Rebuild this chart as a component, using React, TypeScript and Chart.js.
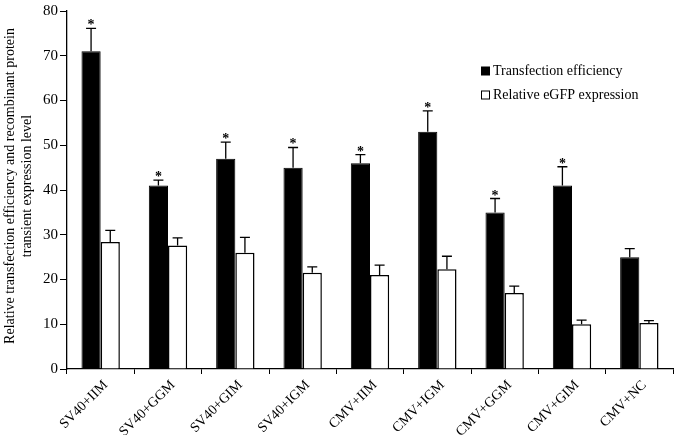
import React, { useEffect, useRef } from "react";
import { Chart, registerables } from "chart.js";

Chart.register(...registerables);

const categories = ["SV40+IIM", "SV40+GGM", "SV40+GIM", "SV40+IGM", "CMV+IIM", "CMV+IGM", "CMV+GGM", "CMV+GIM", "CMV+NC"];
const efficiency = [71, 41, 47, 45, 46, 53, 35, 41, 25];
const efficiencyErr = [5.1, 1.2, 3.7, 4.5, 1.9, 4.7, 3.1, 4.2, 1.9];
const egfp = [28.4, 27.6, 26.0, 21.5, 21.0, 22.3, 17.0, 10.0, 10.3];
const egfpErr = [2.6, 1.7, 3.4, 1.3, 2.2, 2.9, 1.5, 0.9, 0.5];
const significant = [true, true, true, true, true, true, true, true, false];
const yTitle = ["Relative transfection efficiency and recombinant protein", "transient expression level"];
const seriesNames = ["Transfection efficiency", "Relative eGFP expression"];

const FONT = "'Liberation Serif', 'Times New Roman', serif";

export default function App() {
  const ref = useRef<HTMLCanvasElement | null>(null);
  useEffect(() => {
    document.body.style.margin = "0";
    const canvas = ref.current;
    if (!canvas) return;
    const errs = [efficiencyErr, egfpErr];
    const overlay = {
      id: "overlay",
      afterDatasetsDraw(chart: any) {
        const ctx = chart.ctx;
        const y = chart.scales.y;
        ctx.save();
        ctx.strokeStyle = "#000";
        ctx.fillStyle = "#000";
        ctx.lineWidth = 1.3;
        [0, 1].forEach((di) => {
          const meta = chart.getDatasetMeta(di);
          const data = chart.data.datasets[di].data as number[];
          meta.data.forEach((bar: any, i: number) => {
            const x = bar.x;
            const top = y.getPixelForValue(data[i]);
            const et = y.getPixelForValue(data[i] + errs[di][i]);
            ctx.beginPath();
            ctx.moveTo(x, top);
            ctx.lineTo(x, et);
            ctx.moveTo(x - 5, et);
            ctx.lineTo(x + 5, et);
            ctx.stroke();
            if (di === 0 && significant[i]) {
              ctx.font = `bold 14px ${FONT}`;
              ctx.textAlign = "center";
              ctx.textBaseline = "alphabetic";
              ctx.fillText("*", x, et + 1);
            }
          });
        });
        // legend
        ctx.font = `14px ${FONT}`;
        ctx.textAlign = "left";
        ctx.textBaseline = "middle";
        const lx = 481, ly = [71, 95];
        ctx.lineWidth = 1;
        ctx.fillStyle = "#000";
        ctx.fillRect(lx, ly[0] - 4.5, 9, 9);
        ctx.fillStyle = "#fff";
        ctx.fillRect(lx + 0.5, ly[1] - 4, 8, 8);
        ctx.strokeRect(lx + 0.5, ly[1] - 4, 8, 8);
        ctx.fillStyle = "#000";
        ctx.fillText(seriesNames[0], lx + 12, ly[0]);
        ctx.fillText(seriesNames[1], lx + 12, ly[1]);
        // y title
        ctx.save();
        ctx.translate(10, 186);
        ctx.rotate(-Math.PI / 2);
        ctx.textAlign = "center";
        ctx.fillText(yTitle[0], 0, 0);
        ctx.fillText(yTitle[1], 0, 17);
        ctx.restore();
        ctx.restore();
      },
    };
    const chart = new Chart(canvas, {
      type: "bar",
      data: {
        labels: categories,
        datasets: [
          { label: seriesNames[0], data: efficiency, backgroundColor: "#000", borderColor: "#000", borderWidth: 1 },
          { label: seriesNames[1], data: egfp, backgroundColor: "#fff", borderColor: "#000", borderWidth: 1.5 },
        ],
      },
      options: {
        animation: false,
        responsive: false,
        maintainAspectRatio: false,
        layout: { padding: { top: 5, right: 2, left: 0, bottom: 0 } },
        datasets: { bar: { categoryPercentage: 0.57, barPercentage: 1 } },
        plugins: { legend: { display: false }, tooltip: { enabled: false } },
        scales: {
          x: {
            offset: true,
            grid: { display: true, drawOnChartArea: false, drawTicks: true, tickLength: 5, color: "#000", offset: true },
            border: { display: true, color: "#000", width: 1.3 },
            ticks: { color: "#000", font: { family: FONT, size: 14 }, maxRotation: 45, minRotation: 45, padding: 3, labelOffset: 5 },
            afterFit: (s: any) => { s.height = 66; },
          },
          y: {
            min: 0,
            max: 80,
            ticks: { stepSize: 10, color: "#000", font: { family: FONT, size: 15 }, padding: 2 },
            grid: { display: true, drawOnChartArea: false, drawTicks: true, tickLength: 7, color: "#000" },
            border: { display: true, color: "#000", width: 1.3 },
            afterFit: (s: any) => { s.width = 67; },
          },
        },
      },
      plugins: [overlay],
    });
    return () => chart.destroy();
  }, []);
  return (
    <div style={{ position: "absolute", left: 0, top: 0, width: 675, height: 435, background: "#fff" }}>
      <canvas ref={ref} width={675} height={435} style={{ width: 675, height: 435 }} />
    </div>
  );
}
